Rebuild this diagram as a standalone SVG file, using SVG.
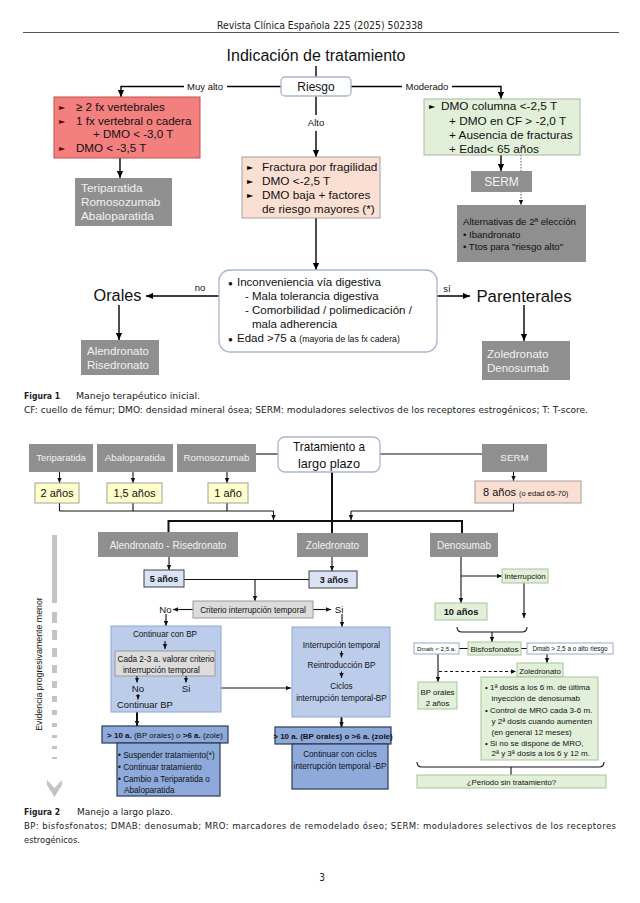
<svg xmlns="http://www.w3.org/2000/svg" width="640" height="903" viewBox="0 0 640 903">
<style>
.t{font-family:"Liberation Sans",Arial,sans-serif;fill:#111}
.c{font-family:"DejaVu Sans Condensed","DejaVu Sans",sans-serif;fill:#222}
.ln{stroke:#000;stroke-width:1.4;fill:none}
.l2{stroke:#111;stroke-width:1.1;fill:none}
.thick{stroke:#111;stroke-width:2;fill:none}
.gray{fill:#8f8f8f}
.gt{fill:#f2f2f2}
.red{fill:#f37f7f;stroke:#c0504d;stroke-width:1}
.peach{fill:#fbdfd3;stroke:#a0a0a0;stroke-width:1}
.green{fill:#e2efd9;stroke:#a8b8a0;stroke-width:1}
.g2{fill:#e2efd9;stroke:#a9c49a;stroke-width:1}
.yel{fill:#ffffcc;stroke:#a0a0a0;stroke-width:1}
.lb{fill:#dae3f3;stroke:#404040;stroke-width:1}
.mb{fill:#bccdec;stroke:#8fa6d2;stroke-width:1}
.db{fill:#8eaadb;stroke:#2b3a55;stroke-width:1.2}
.lg{fill:#dcdcdc;stroke:#9a9a9a;stroke-width:1}
.wb{fill:#fff;stroke:#9aaac0;stroke-width:1}
.rr{fill:#fff;stroke:#a9b6cc;stroke-width:1.3}
.bul{font-family:"DejaVu Sans",sans-serif;font-size:8px}
</style>
<defs>
<marker id="ah" viewBox="0 0 8 8" refX="8" refY="4" markerWidth="7" markerHeight="7" orient="auto" markerUnits="userSpaceOnUse"><path d="M0,0.5 L8,4 L0,7.5 z" fill="#000"/></marker>
<marker id="as" viewBox="0 0 8 8" refX="8" refY="4" markerWidth="5" markerHeight="5" orient="auto" markerUnits="userSpaceOnUse"><path d="M0,0.5 L8,4 L0,7.5 z" fill="#111"/></marker>
</defs>
<rect width="640" height="903" fill="#fff"/>

<g id="header">
<text class="c" x="217" y="29" font-size="10.5" textLength="206" lengthAdjust="spacingAndGlyphs">Revista Clínica Española 225 (2025) 502338</text>
<line x1="23" y1="32.5" x2="619" y2="32.5" stroke="#555" stroke-width="1"/>
</g>

<!-- FIGURE 1 -->
<g id="connectors-fig1">
<path class="ln" d="M316,66 V77"/>
<path class="ln" d="M281,86.5 H227"/>
<path class="ln" d="M184,86.5 H121 V97" marker-end="url(#ah)"/>
<path class="ln" d="M351,86.5 H402"/>
<path class="ln" d="M452,86.5 H501 V99" marker-end="url(#ah)"/>
<path class="ln" d="M316,96 V115"/>
<path class="ln" d="M316,131 V157" marker-end="url(#ah)"/>
<path class="ln" d="M120,158 V178" marker-end="url(#ah)"/>
<path class="ln" d="M316,218 V270" marker-end="url(#ah)"/>
<path class="ln" d="M501,155 V171" marker-end="url(#ah)"/>
<path d="M521,155 V205" stroke="#555" stroke-width="1" stroke-dasharray="1.5,1.5" fill="none" marker-end="url(#as)"/>
<path class="ln" d="M219,296 H146" marker-end="url(#ah)"/>
<path class="ln" d="M119,305 V340" marker-end="url(#ah)"/>
<path class="ln" d="M437,296 H470" marker-end="url(#ah)"/>
<path class="ln" d="M524,305 V341" marker-end="url(#ah)"/>
<text class="t" x="205" y="90" font-size="9.5" text-anchor="middle">Muy alto</text>
<text class="t" x="427" y="90" font-size="9.5" text-anchor="middle">Moderado</text>
<text class="t" x="316" y="126" font-size="9.5" text-anchor="middle">Alto</text>
<text class="t" x="200" y="291" font-size="9.5" text-anchor="middle">no</text>
<text class="t" x="447" y="292" font-size="9.5" text-anchor="middle">sí</text>
</g>

<g id="title">
<text class="t" x="316" y="61" font-size="16" text-anchor="middle">Indicación de tratamiento</text>
</g>

<g id="riesgo">
<rect x="281" y="77" width="70" height="19" rx="4" class="rr"/>
<text class="t" x="316" y="91" font-size="12" text-anchor="middle">Riesgo</text>
</g>

<g id="muy-alto">
<rect x="54" y="97" width="146" height="61" class="red"/>
<text class="bul" x="59" y="110" fill="#5a0000">►</text>
<text class="bul" x="59" y="123.5" fill="#5a0000">►</text>
<text class="bul" x="59" y="151" fill="#5a0000">►</text>
<text class="t" x="76" y="111" font-size="11.6" fill="#5a0000">≥ 2 fx vertebrales</text>
<text class="t" x="76" y="124.5" font-size="11.6" fill="#5a0000">1 fx vertebral o cadera</text>
<text class="t" x="93" y="138" font-size="11.6" fill="#5a0000">+ DMO &lt; -3,0 T</text>
<text class="t" x="76" y="152" font-size="11.6" fill="#5a0000">DMO &lt; -3,5 T</text>
</g>

<g id="anabolicos">
<rect x="75" y="178" width="97" height="48" class="gray"/>
<text class="t gt" x="81" y="192" font-size="11.8">Teriparatida</text>
<text class="t gt" x="81" y="206" font-size="11.8">Romosozumab</text>
<text class="t gt" x="81" y="220" font-size="11.8">Abaloparatida</text>
</g>

<g id="alto">
<rect x="242" y="157" width="138" height="61" class="peach"/>
<text class="bul" x="247" y="170">►</text>
<text class="bul" x="247" y="184">►</text>
<text class="bul" x="247" y="198">►</text>
<text class="t" x="262" y="171" font-size="11.8">Fractura por fragilidad</text>
<text class="t" x="262" y="185" font-size="11.8">DMO &lt;-2,5 T</text>
<text class="t" x="262" y="199" font-size="11.8">DMO baja + factores</text>
<text class="t" x="262" y="212.5" font-size="11.8">de riesgo mayores (*)</text>
</g>

<g id="moderado">
<rect x="424" y="99" width="156" height="56" class="green"/>
<text class="bul" x="429" y="108.5">►</text>
<text class="t" x="441" y="109.5" font-size="11.8">DMO columna &lt;-2,5 T</text>
<text class="t" x="449" y="124.5" font-size="11.8">+ DMO en CF &gt; -2,0 T</text>
<text class="t" x="449" y="138.5" font-size="11.8">+ Ausencia de fracturas</text>
<text class="t" x="449" y="153" font-size="11.8">+ Edad&lt; 65 años</text>
</g>

<g id="serm-1">
<rect x="471" y="171" width="61" height="21" class="gray"/>
<text class="t gt" x="501.5" y="186" font-size="12" text-anchor="middle">SERM</text>
</g>

<g id="alternativas">
<rect x="457" y="205" width="129" height="57" class="gray"/>
<text class="t" x="463" y="224.5" font-size="9.6" fill="#dedede">Alternativas de 2ª elección</text>
<text class="t" x="463" y="237.5" font-size="9.6" fill="#dedede">•  Ibandronato</text>
<text class="t" x="463" y="250" font-size="9.6" fill="#dedede">•  Ttos para "riesgo alto"</text>
</g>

<g id="via-digestiva">
<rect x="219" y="270" width="218" height="82" rx="11" class="rr"/>
<text class="t" x="228" y="285.5" font-size="8">●</text>
<text class="t" x="237" y="286" font-size="11.5">Inconveniencia vía digestiva</text>
<text class="t" x="245" y="300" font-size="11.5">- Mala tolerancia digestiva</text>
<text class="t" x="245" y="314" font-size="11.5">- Comorbilidad / polimedicación /</text>
<text class="t" x="252" y="328" font-size="11.5">mala adherencia</text>
<text class="t" x="228" y="341.5" font-size="8">●</text>
<text class="t" x="237" y="342" font-size="11.5">Edad &gt;75 a <tspan font-size="8.7">(mayoria de las fx cadera)</tspan></text>
</g>

<g id="orales">
<text class="t" x="117.5" y="301" font-size="16.3" text-anchor="middle">Orales</text>
</g>
<g id="parenterales">
<text class="t" x="524" y="302" font-size="16.8" text-anchor="middle">Parenterales</text>
</g>

<g id="orales-farmacos">
<rect x="81" y="340" width="78" height="35" class="gray"/>
<text class="t gt" x="87" y="355" font-size="11.5">Alendronato</text>
<text class="t gt" x="87" y="368.5" font-size="11.5">Risedronato</text>
</g>

<g id="parenterales-farmacos">
<rect x="482" y="341" width="88" height="39" class="gray"/>
<text class="t gt" x="487" y="358" font-size="11.5">Zoledronato</text>
<text class="t gt" x="487" y="372" font-size="11.5">Denosumab</text>
</g>

<g id="caption-1">
<text class="c" x="24" y="399" font-size="9.5" font-weight="bold" textLength="36" lengthAdjust="spacingAndGlyphs">Figura 1</text>
<text class="c" x="76" y="399" font-size="9.5" textLength="124" lengthAdjust="spacingAndGlyphs">Manejo terapéutico inicial.</text>
<text class="c" x="24" y="412.5" font-size="9.5" textLength="564" lengthAdjust="spacingAndGlyphs">CF: cuello de fémur; DMO: densidad mineral ósea; SERM: moduladores selectivos de los receptores estrogénicos; T: T-score.</text>
</g>

<!-- FIGURE 2 -->
<g id="connectors-fig2">
<path class="l2" d="M256,454 H278"/>
<path class="l2" d="M380,454 H482"/>
<path class="l2" d="M59.5,472 V483" marker-end="url(#as)"/>
<path class="l2" d="M133,472 V483" marker-end="url(#as)"/>
<path class="l2" d="M227,472 V483" marker-end="url(#as)"/>
<path class="l2" d="M513.5,472 V481" marker-end="url(#as)"/>
<path class="l2" d="M59.5,503 V511 M133,503 V511 M227,503 V511 M59.5,511 H273.5"/>
<path class="l2" d="M273.5,511 V520" marker-end="url(#as)"/>
<path class="l2" d="M513.5,503 V511 H351"/>
<path class="l2" d="M351,511 V520" marker-end="url(#as)"/>
<path class="thick" d="M332,472 V521 M168.5,521 H463 M168.5,520 V532 M332,521 V533 M462,520 V533"/>
<path class="l2" d="M169,557 V570" marker-end="url(#as)"/>
<path class="l2" d="M332,557 V571" marker-end="url(#as)"/>
<path class="l2" d="M184,579.5 H309"/>
<path class="l2" d="M255,579.5 V601" marker-end="url(#as)"/>
<path class="l2" d="M193,609.5 H173" marker-end="url(#as)"/>
<path class="l2" d="M313,609.5 H331" marker-end="url(#as)"/>
<path class="l2" d="M166,614 V626" marker-end="url(#as)"/>
<path class="l2" d="M342,614 V627" marker-end="url(#as)"/>
<path class="l2" d="M198,688 H291" marker-end="url(#as)"/>
<path class="thick" d="M137,712 V726" marker-end="url(#as)" stroke-width="1.3"/>
<path class="thick" d="M341.5,717 V727" marker-end="url(#as)" stroke-width="1.3"/>
<path class="l2" d="M461,557 V603" marker-end="url(#as)"/>
<path class="l2" d="M461,576 H502" marker-end="url(#as)"/>
<path class="l2" d="M524,583 V618" marker-end="url(#as)"/>
<path class="l2" d="M457,627 Q457,632 462,632 H522 Q527,632 527,627"/>
<path class="l2" d="M492,632 V642" marker-end="url(#as)"/>
<path class="l2" d="M459,648.5 H468 M521,648.5 H527"/>
<path class="l2" d="M547,654 V663" marker-end="url(#as)"/>
<path class="l2" d="M438,654 V682" marker-end="url(#as)"/>
<path d="M439,671.5 H516" stroke="#111" stroke-width="1" stroke-dasharray="3,2.5" fill="none" marker-end="url(#as)"/>
<path class="l2" d="M417,762 Q417,767 422,767 H599 Q604,767 604,762"/>
<path class="l2" d="M511,767 V775"/>
</g>

<g id="teriparatida">
<rect x="29" y="444" width="64" height="28" class="gray"/>
<text class="t gt" x="61" y="461" font-size="9.5" text-anchor="middle">Teriparatida</text>
</g>
<g id="abaloparatida">
<rect x="97" y="444" width="76" height="28" class="gray"/>
<text class="t gt" x="135" y="461" font-size="9.8" text-anchor="middle">Abaloparatida</text>
</g>
<g id="romosozumab">
<rect x="177" y="444" width="79" height="28" class="gray"/>
<text class="t gt" x="216.5" y="461" font-size="9.8" text-anchor="middle">Romosozumab</text>
</g>
<g id="tratamiento-largo-plazo">
<rect x="278" y="437" width="102" height="35" rx="7" class="rr"/>
<text class="t" x="329" y="451" font-size="13.5" text-anchor="middle" textLength="72" lengthAdjust="spacingAndGlyphs">Tratamiento a</text>
<text class="t" x="329" y="467.5" font-size="13.5" text-anchor="middle" textLength="62" lengthAdjust="spacingAndGlyphs">largo plazo</text>
</g>
<g id="serm-2">
<rect x="482" y="444" width="65" height="28" class="gray"/>
<text class="t gt" x="514.5" y="461" font-size="9.8" text-anchor="middle">SERM</text>
</g>

<g id="anos-2"><rect x="35" y="483" width="44" height="20" class="yel"/><text class="t" x="57" y="497" font-size="11" text-anchor="middle">2 años</text></g>
<g id="anos-1-5"><rect x="107" y="483" width="55" height="20" class="yel"/><text class="t" x="134.5" y="497" font-size="11" text-anchor="middle">1,5 años</text></g>
<g id="ano-1"><rect x="208" y="483" width="40" height="20" class="yel"/><text class="t" x="228" y="497" font-size="11" text-anchor="middle">1 año</text></g>
<g id="anos-8"><rect x="475" y="481" width="106" height="22" class="peach"/><text class="t" x="483" y="496" font-size="11">8 años <tspan font-size="7.5">(o edad 65-70)</tspan></text></g>

<g id="alendronato-risedronato">
<rect x="98" y="532" width="140" height="25" class="gray"/>
<text class="t gt" x="168" y="548.5" font-size="10" text-anchor="middle">Alendronato - Risedronato</text>
</g>
<g id="zoledronato-2">
<rect x="297" y="533" width="71" height="24" class="gray"/>
<text class="t gt" x="332.5" y="548.5" font-size="10" text-anchor="middle">Zoledronato</text>
</g>
<g id="denosumab-2">
<rect x="430" y="533" width="68" height="24" class="gray"/>
<text class="t gt" x="464" y="548.5" font-size="10" text-anchor="middle">Denosumab</text>
</g>

<g id="anos-5"><rect x="144" y="570" width="40" height="17" class="lb"/><text class="t" x="164" y="582" font-size="9" font-weight="bold" text-anchor="middle">5 años</text></g>
<g id="anos-3"><rect x="309" y="571" width="48" height="17" class="lb"/><text class="t" x="334" y="583" font-size="9" font-weight="bold" text-anchor="middle">3 años</text></g>

<g id="criterio">
<rect x="193" y="601" width="120" height="17" class="lg"/>
<text class="t" x="253" y="612.5" font-size="8.2" text-anchor="middle">Criterio interrupción temporal</text>
<text class="t" x="165.5" y="612.5" font-size="9.7" text-anchor="middle">No</text>
<text class="t" x="339" y="612.5" font-size="9.7" text-anchor="middle">Si</text>
</g>

<g id="continuar-bp">
<rect x="111" y="626" width="110" height="86" class="mb"/>
<text class="t" x="165" y="636.5" font-size="8.2" text-anchor="middle">Continuar con BP</text>
<path class="l2" d="M165,641 V649" marker-end="url(#as)" stroke-width="1"/>
<rect x="115" y="651" width="100" height="25" class="lg"/>
<text class="t" x="117.5" y="661.5" font-size="8.2">Cada 2-3 a. valorar criterio</text>
<text class="t" x="123" y="672.5" font-size="8.2">interrupción temporal</text>
<path class="l2" d="M137,676 V682.5" marker-end="url(#as)" stroke-width="1"/>
<path class="l2" d="M186,676 V682.5" marker-end="url(#as)" stroke-width="1"/>
<text class="t" x="138" y="692" font-size="9.7" text-anchor="middle">No</text>
<text class="t" x="186" y="692" font-size="9.7" text-anchor="middle">Si</text>
<path class="l2" d="M138,694 V699.5" marker-end="url(#as)" stroke-width="1"/>
<text class="t" x="117" y="708" font-size="9.4">Continuar BP</text>
</g>

<g id="interrupcion-temporal">
<rect x="292" y="627" width="98" height="90" class="mb"/>
<text class="t" x="341.5" y="647.5" font-size="8.2" text-anchor="middle">Interrupción temporal</text>
<path class="l2" d="M341.5,651 V657.5" marker-end="url(#as)" stroke-width="1"/>
<text class="t" x="341.5" y="667.5" font-size="8.2" text-anchor="middle">Reintroducción BP</text>
<path class="l2" d="M341.5,671.5 V678" marker-end="url(#as)" stroke-width="1"/>
<text class="t" x="341.5" y="689" font-size="8.2" text-anchor="middle">Ciclos</text>
<text class="t" x="341.5" y="701" font-size="8.2" text-anchor="middle">interrupción temporal-BP</text>
</g>

<g id="mas-10-izq">
<rect x="102" y="726" width="126" height="17" class="db"/>
<text class="t" x="165" y="738" font-size="8" text-anchor="middle"><tspan font-weight="bold">&gt; 10 a.</tspan> (BP orales) o <tspan font-weight="bold">&gt;6 a.</tspan> (zole)</text>
</g>
<g id="opciones-izq">
<rect x="117" y="743" width="103" height="53" class="db"/>
<text class="t" x="118" y="757.5" font-size="8.2">• Suspender tratamiento(*)</text>
<text class="t" x="118" y="769.5" font-size="8.2">• Continuar tratamiento</text>
<text class="t" x="118" y="781.5" font-size="8.2">• Cambio a Teriparatida o</text>
<text class="t" x="124" y="793" font-size="8.2">Abaloparatida</text>
</g>

<g id="mas-10-der">
<rect x="275" y="727" width="116" height="17" class="db"/>
<text class="t" x="333" y="739" font-size="8" font-weight="bold" text-anchor="middle">&gt; 10 a. (BP orales) o &gt;6 a. (zole)</text>
</g>
<g id="ciclos-der">
<rect x="292" y="744" width="96" height="45" class="db"/>
<text class="t" x="340" y="756.5" font-size="8.2" text-anchor="middle">Continuar con ciclos</text>
<text class="t" x="340" y="768.5" font-size="8.2" text-anchor="middle">interrupción temporal -BP</text>
</g>

<g id="interrupcion">
<rect x="502" y="569" width="46" height="14" class="g2"/>
<text class="t" x="525" y="579" font-size="7.8" text-anchor="middle">Interrupción</text>
</g>
<g id="anos-10">
<rect x="435" y="603" width="52" height="17" class="g2"/>
<text class="t" x="461" y="615" font-size="9.3" font-weight="bold" text-anchor="middle">10 años</text>
</g>
<g id="dmab-menor">
<rect x="414" y="643" width="45" height="11" class="wb"/>
<text class="t" x="436.5" y="651" font-size="6.2" text-anchor="middle">Dmab &lt; 2,5 a.</text>
</g>
<g id="bisfosfonatos">
<rect x="468" y="642" width="53" height="13" class="g2"/>
<text class="t" x="494.5" y="651.5" font-size="8" text-anchor="middle">Bisfosfonatos</text>
</g>
<g id="dmab-mayor">
<rect x="527" y="643" width="86" height="11" class="wb"/>
<text class="t" x="570" y="651" font-size="6.4" text-anchor="middle">Dmab &gt; 2,5 a o alto riesgo</text>
</g>
<g id="zoledronato-3">
<rect x="517" y="663" width="46" height="14" class="g2"/>
<text class="t" x="540" y="673.5" font-size="7.8" text-anchor="middle">Zoledronato</text>
</g>
<g id="bp-orales">
<rect x="418" y="682" width="39" height="27" class="g2"/>
<text class="t" x="437.5" y="694.5" font-size="7.9" text-anchor="middle">BP orales</text>
<text class="t" x="437.5" y="705.5" font-size="7.9" text-anchor="middle">2 años</text>
</g>
<g id="pauta-zoledronato">
<rect x="481" y="677" width="117" height="83" class="g2"/>
<text class="t" x="485" y="690" font-size="8">• 1ª dosis a los 6 m. de última</text>
<text class="t" x="491.5" y="701" font-size="8">inyección de denosumab</text>
<text class="t" x="485" y="712.5" font-size="8">• Control de MRO cada 3-6 m.</text>
<text class="t" x="491.5" y="723.5" font-size="8">y 2ª dosis cuando aumenten</text>
<text class="t" x="491.5" y="734.5" font-size="8">(en general 12 meses)</text>
<text class="t" x="485" y="745.5" font-size="8">• Si no se dispone de MRO,</text>
<text class="t" x="491.5" y="756" font-size="8">2ª y 3ª dosis a los 6 y 12 m.</text>
</g>
<g id="periodo-sin-tratamiento">
<rect x="417" y="775" width="189" height="13" class="g2"/>
<text class="t" x="511.5" y="784.5" font-size="7.8" text-anchor="middle">¿Periodo sin tratamiento?</text>
</g>

<g id="evidencia">
<g fill="#c4c4c4">
<rect x="52" y="535" width="5" height="68"/>
<rect x="52" y="612" width="5" height="11"/>
<rect x="52" y="630" width="5" height="10"/>
<rect x="52" y="648" width="5" height="9"/>
<rect x="52" y="665" width="5" height="8"/>
<rect x="52" y="681" width="5" height="7"/>
<rect x="52" y="696" width="5" height="6"/>
<rect x="52" y="710" width="5" height="5"/>
<rect x="52" y="723" width="5" height="4"/>
<rect x="52" y="735" width="5" height="3"/>
<rect x="52" y="746" width="5" height="3"/>
<rect x="52" y="757" width="5" height="2"/>
<polygon points="47,780 54.5,788 62,780 62,785 54.5,797 47,785"/>
</g>
<text class="t" transform="translate(42,664) rotate(-90)" font-size="8.8" fill="#a8a8a8" text-anchor="middle">Evidencia progresivamente menor</text>
</g>

<g id="caption-2">
<text class="c" x="24" y="815" font-size="9.5" font-weight="bold" textLength="36" lengthAdjust="spacingAndGlyphs">Figura 2</text>
<text class="c" x="77" y="815" font-size="9.5" textLength="96" lengthAdjust="spacingAndGlyphs">Manejo a largo plazo.</text>
<text class="c" x="24" y="829" font-size="9.5" textLength="592" lengthAdjust="spacing">BP: bisfosfonatos; DMAB: denosumab; MRO: marcadores de remodelado óseo; SERM: moduladores selectivos de los receptores</text>
<text class="c" x="24" y="843" font-size="9.5" textLength="56" lengthAdjust="spacingAndGlyphs">estrogénicos.</text>
<text class="c" x="322" y="881" font-size="10" text-anchor="middle">3</text>
</g>
</svg>
